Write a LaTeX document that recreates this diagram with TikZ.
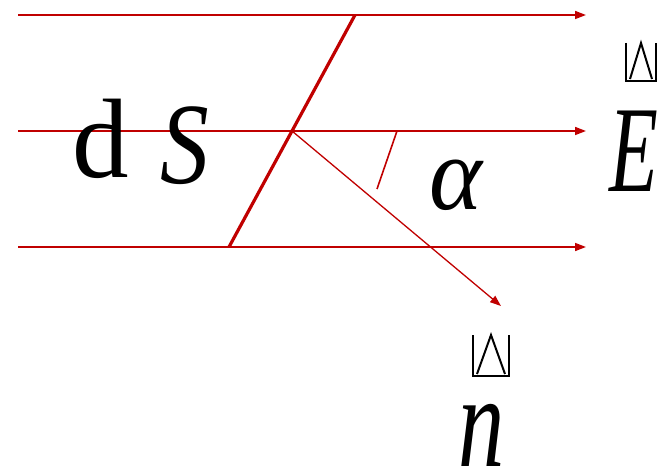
\documentclass[tikz,border=0pt]{standalone}
\usepackage{graphicx}
\usepackage{fontspec}
\setmainfont{Liberation Serif}
\usetikzlibrary{arrows.meta, positioning}
\definecolor{cred}{HTML}{C00000}
\tikzset{
  fieldline/.style={draw=cred, line width=1.6pt, -{Triangle[length=11pt, width=8pt]}},
  surface/.style={draw=cred, line width=3.2pt},
  normal/.style={draw=cred, line width=1.3pt, -{Triangle[length=11pt, width=8pt]}},
  anglemark/.style={draw=cred, line width=1.6pt},
  sym/.style={inner sep=0pt, anchor=base, text depth=0pt, font=\fontsize{#1}{#1}\selectfont},
  sym/.default=123,
  tofu/.style={draw=black, line width=2pt},
}

\begin{document}
\begin{tikzpicture}[x=1pt, y=-1pt]
  \useasboundingbox (0,0) rectangle (664,476);

  % field lines
  \coordinate (l1) at (18,15);   \coordinate (r1) at (586,15);
  \coordinate (l2) at (18,131);  \coordinate (r2) at (586,131);
  \coordinate (l3) at (18,247);  \coordinate (r3) at (586,247);
  \draw[fieldline] (l1) -- (r1);
  \draw[fieldline] (l2) -- (r2);
  \draw[fieldline] (l3) -- (r3);

  % surface element and its normal
  \coordinate (stop) at (355,15);
  \coordinate (sbot) at (229,247);
  \coordinate (o) at (292,131);
  \coordinate (ntip) at (501,306);
  \draw[surface] (stop) -- (sbot);
  \draw[normal] (o) -- (ntip);

  % angle
  \coordinate (a1) at (397,131);
  \coordinate (a2) at (377,189);
  \draw[anglemark] (a1) -- (a2);

  % labels
  \node[sym=113] (dd) at (101,178) {d};
  \node[sym=116] (ds) at (185,183) {\scalebox{0.84}[1]{\textit{S}}};
  \node[sym=105] (alpha) at (457,209) {\scalebox{0.96}[1]{\textit{α}}};
  \node[sym=123] (vecE) at (634,191) {\scalebox{0.65}[1]{\textit{E}}};
  \node[sym=132] (vecn) at (482,466) {\scalebox{0.7}[1]{\textit{n}}};

  % missing arrow glyphs above E and n
  \draw[tofu] (626,43) -- (626,81) -- (656,81) -- (656,43);
  \draw[tofu] (630,79) -- (641,43) -- (652,79);
  \draw[tofu] (473,335) -- (473,376) -- (509,376) -- (509,335);
  \draw[tofu] (477,374) -- (491,335) -- (505,374);
\end{tikzpicture}
\end{document}
